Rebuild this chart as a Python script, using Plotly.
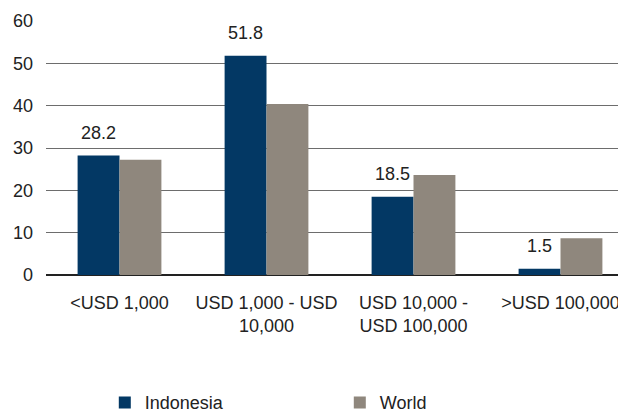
import plotly.graph_objects as go

categories = ["<USD 1,000", "USD 1,000 - USD<br>10,000", "USD 10,000 -<br>USD 100,000", ">USD 100,000"]
indonesia = [28.2, 51.8, 18.5, 1.5]
world = [27.2, 40.4, 23.6, 8.7]
y_ticks = [0, 10, 20, 30, 40, 50, 60]

FONT = "Liberation Sans, Arial, sans-serif"
NAVY = "#033864"
GREY = "#8f877d"
TXT = "#222222"

fig = go.Figure()
fig.add_trace(go.Bar(name="Indonesia", x=categories, y=indonesia, marker_color=NAVY, marker_line_width=0))
fig.add_trace(go.Bar(name="World", x=categories, y=world, marker_color=GREY, marker_line_width=0))

for c, v in zip(categories, indonesia):
    fig.add_annotation(x=c, y=v, text=f"{v:.1f}", showarrow=False, xshift=-21,
                       yanchor="bottom", yshift=11, font=dict(family=FONT, size=18, color=TXT))

fig.update_layout(
    width=626, height=412,
    margin=dict(l=38, r=0, t=13, b=145, autoexpand=False),
    paper_bgcolor="white", plot_bgcolor="white",
    barmode="group", bargap=0.43, bargroupgap=0,
    font=dict(family=FONT, size=18, color=TXT),
    showlegend=True,
    legend=dict(orientation="h", x=0.1, xanchor="left", y=-0.43, yanchor="top",
                entrywidth=190, entrywidthmode="pixels",
                font=dict(family=FONT, size=18, color=TXT), traceorder="normal"),
    xaxis=dict(range=[-0.5, 3.5], showgrid=False, showline=False, ticks="", automargin=False,
               ticklabelstandoff=15,
               tickfont=dict(family=FONT, size=18, color=TXT)),
    yaxis=dict(range=[0, 60], tickvals=y_ticks, showgrid=True, gridcolor="#6d6d6d", gridwidth=1,
               zeroline=True, zerolinecolor="#222", zerolinewidth=1.5, showline=False,
               ticks="", ticklabelstandoff=12, automargin=False,
               tickfont=dict(family=FONT, size=18, color=TXT)),
)

fig.write_html("out.html")
